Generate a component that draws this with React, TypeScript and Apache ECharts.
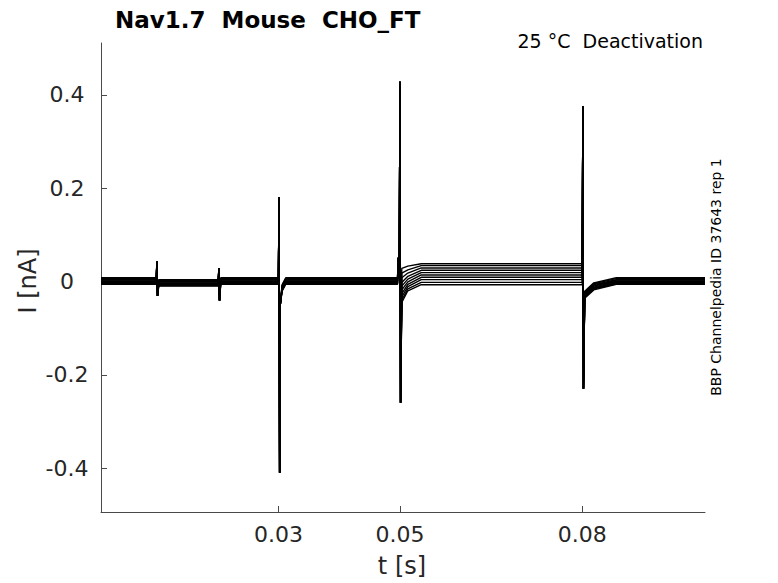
import React, { useEffect, useRef } from "react";
import * as echarts from "echarts";

// Axis ticks
const xTicks = [0.03, 0.05, 0.08];
const xTickLabels = ["0.03", "0.05", "0.08"];
const yTicks = [-0.4, -0.2, 0, 0.2, 0.4];
const yTickLabels = ["-0.4", "-0.2", "0", "0.2", "0.4"];

// Per-sweep levels (nA), 10 sweeps of the deactivation protocol
const baselineLevel = [-0.006, -0.005, -0.003, -0.002, 0.0, 0.001, 0.003, 0.004, 0.006, 0.008];
const interPulseLevel = [-0.010, -0.009, -0.007, -0.006, -0.004, -0.003, -0.001, 0.0, 0.002, 0.004];
const stepTailStart = [-0.045, -0.040, -0.033, -0.026, -0.018, -0.010, -0.002, 0.008, 0.018, 0.028];
const stepTailMid = [-0.020, -0.016, -0.011, -0.006, -0.001, 0.005, 0.011, 0.018, 0.025, 0.033];
const stepLevel = [-0.007, -0.002, 0.004, 0.009, 0.014, 0.019, 0.024, 0.029, 0.034, 0.038];
const offTailStart = [-0.036, -0.034, -0.032, -0.031, -0.029, -0.028, -0.026, -0.025, -0.023, -0.021];
const offTailMid = [-0.018, -0.016, -0.015, -0.014, -0.012, -0.010, -0.009, -0.007, -0.005, -0.003];

// Shared capacitive transients
const spikeTimes = [0.01, 0.0202, 0.0301, 0.05, 0.0801];
const spikeUp = [0.044, 0.029, 0.181, 0.428, 0.376];
const spikeDown = [-0.031, -0.041, -0.41, -0.26, -0.23];
const pre50Bump = 0.05;
const post30Dip = -0.05;

function buildSweep(i: number): number[][] {
  const b = baselineLevel[i];
  const m = interPulseLevel[i];
  const s = spikeTimes;
  return [
    [0.0008, b],
    [s[0] - 0.0001, b],
    [s[0], spikeUp[0]],
    [s[0] + 0.0001, spikeDown[0]],
    [s[0] + 0.0003, m],
    [s[1] - 0.0001, m],
    [s[1], spikeUp[1]],
    [s[1] + 0.0001, spikeDown[1]],
    [s[1] + 0.0003, b],
    [s[2] - 0.0001, b],
    [s[2], spikeUp[2]],
    [s[2] + 0.0001, spikeDown[2]],
    [s[2] + 0.0002, post30Dip],
    [s[2] + 0.0005, b - 0.015],
    [s[2] + 0.0011, b],
    [s[3] - 0.0004, b],
    [s[3] - 0.0003, pre50Bump],
    [s[3] - 0.0001, pre50Bump],
    [s[3], spikeUp[3]],
    [s[3] + 0.0001, spikeDown[3]],
    [s[3] + 0.0003, stepTailStart[i]],
    [s[3] + 0.0013, stepTailMid[i]],
    [s[3] + 0.0035, stepLevel[i]],
    [s[4] - 0.0001, stepLevel[i]],
    [s[4], spikeUp[4]],
    [s[4] + 0.0001, spikeDown[4]],
    [s[4] + 0.0003, offTailStart[i]],
    [s[4] + 0.0018, offTailMid[i]],
    [s[4] + 0.0055, b],
    [0.1002, b],
  ];
}

const FONT = "'DejaVu Sans', sans-serif";

export default function App() {
  const ref = useRef<HTMLDivElement>(null);
  useEffect(() => {
    document.body.style.margin = "0";
    if (!ref.current) return;
    const chart = echarts.init(ref.current, null, { renderer: "svg" });
    const series = baselineLevel.map((_, i) => ({
      type: "line",
      data: buildSweep(i),
      showSymbol: false,
      symbol: "none",
      silent: true,
      lineStyle: { color: "#000", width: 1.4 },
    }));
    const fmt = (ticks: number[], labels: string[]) => (v: number) => {
      const k = ticks.findIndex((t) => Math.abs(t - v) < 1e-9);
      return k >= 0 ? labels[k] : "";
    };
    chart.setOption({
      animation: false,
      backgroundColor: "#fff",
      grid: { left: 101, right: 73, top: 43, bottom: 71, containLabel: false, outerBoundsMode: "none" },
      xAxis: {
        type: "value",
        min: 0.0008,
        max: 0.1002,
        axisLine: { show: true, onZero: false, lineStyle: { color: "#4a4a4a", width: 1 } },
        axisTick: { show: true, inside: true, length: 6, customValues: xTicks, lineStyle: { color: "#4a4a4a" } },
        axisLabel: {
          customValues: xTicks,
          formatter: fmt(xTicks, xTickLabels),
          fontSize: 22,
          fontFamily: FONT,
          color: "#262626",
          margin: 11,
        },
        splitLine: { show: false },
      },
      yAxis: {
        type: "value",
        min: -0.494,
        max: 0.511,
        axisLine: { show: true, onZero: false, lineStyle: { color: "#4a4a4a", width: 1 } },
        axisTick: { show: true, inside: true, length: 6, customValues: yTicks, lineStyle: { color: "#4a4a4a" } },
        axisLabel: {
          customValues: yTicks,
          formatter: fmt(yTicks, yTickLabels),
          fontSize: 22,
          fontFamily: FONT,
          color: "#262626",
          align: "center",
          margin: 34,
        },
        splitLine: { show: false },
      },
      graphic: [
        {
          type: "text",
          x: 115,
          y: 20,
          style: {
            text: "Nav1.7  Mouse  CHO_FT",
            font: `bold 23px ${FONT}`,
            fill: "#000",
            textAlign: "left",
            textVerticalAlign: "middle",
            align: "left",
            verticalAlign: "middle",
          },
        },
        {
          type: "text",
          x: 703,
          y: 41,
          style: {
            text: "25 °C  Deactivation",
            font: `19px ${FONT}`,
            fill: "#000",
            textAlign: "right",
            textVerticalAlign: "middle",
            align: "right",
            verticalAlign: "middle",
          },
        },
        {
          type: "text",
          x: 716,
          y: 277,
          rotation: Math.PI / 2,
          style: {
            text: "BBP Channelpedia ID 37643 rep 1",
            font: `14px ${FONT}`,
            fill: "#000",
            textAlign: "center",
            textVerticalAlign: "middle",
            align: "center",
            verticalAlign: "middle",
          },
        },
        {
          type: "text",
          x: 28,
          y: 281,
          rotation: Math.PI / 2,
          style: {
            text: "I [nA]",
            font: `24px ${FONT}`,
            fill: "#262626",
            textAlign: "center",
            textVerticalAlign: "middle",
            align: "center",
            verticalAlign: "middle",
          },
        },
        {
          type: "text",
          x: 402,
          y: 566,
          style: {
            text: "t [s]",
            font: `24px ${FONT}`,
            fill: "#262626",
            textAlign: "center",
            textVerticalAlign: "middle",
            align: "center",
            verticalAlign: "middle",
          },
        },
      ],
      series,
    });
    return () => chart.dispose();
  }, []);
  return <div ref={ref} style={{ width: 778, height: 583 }} />;
}
